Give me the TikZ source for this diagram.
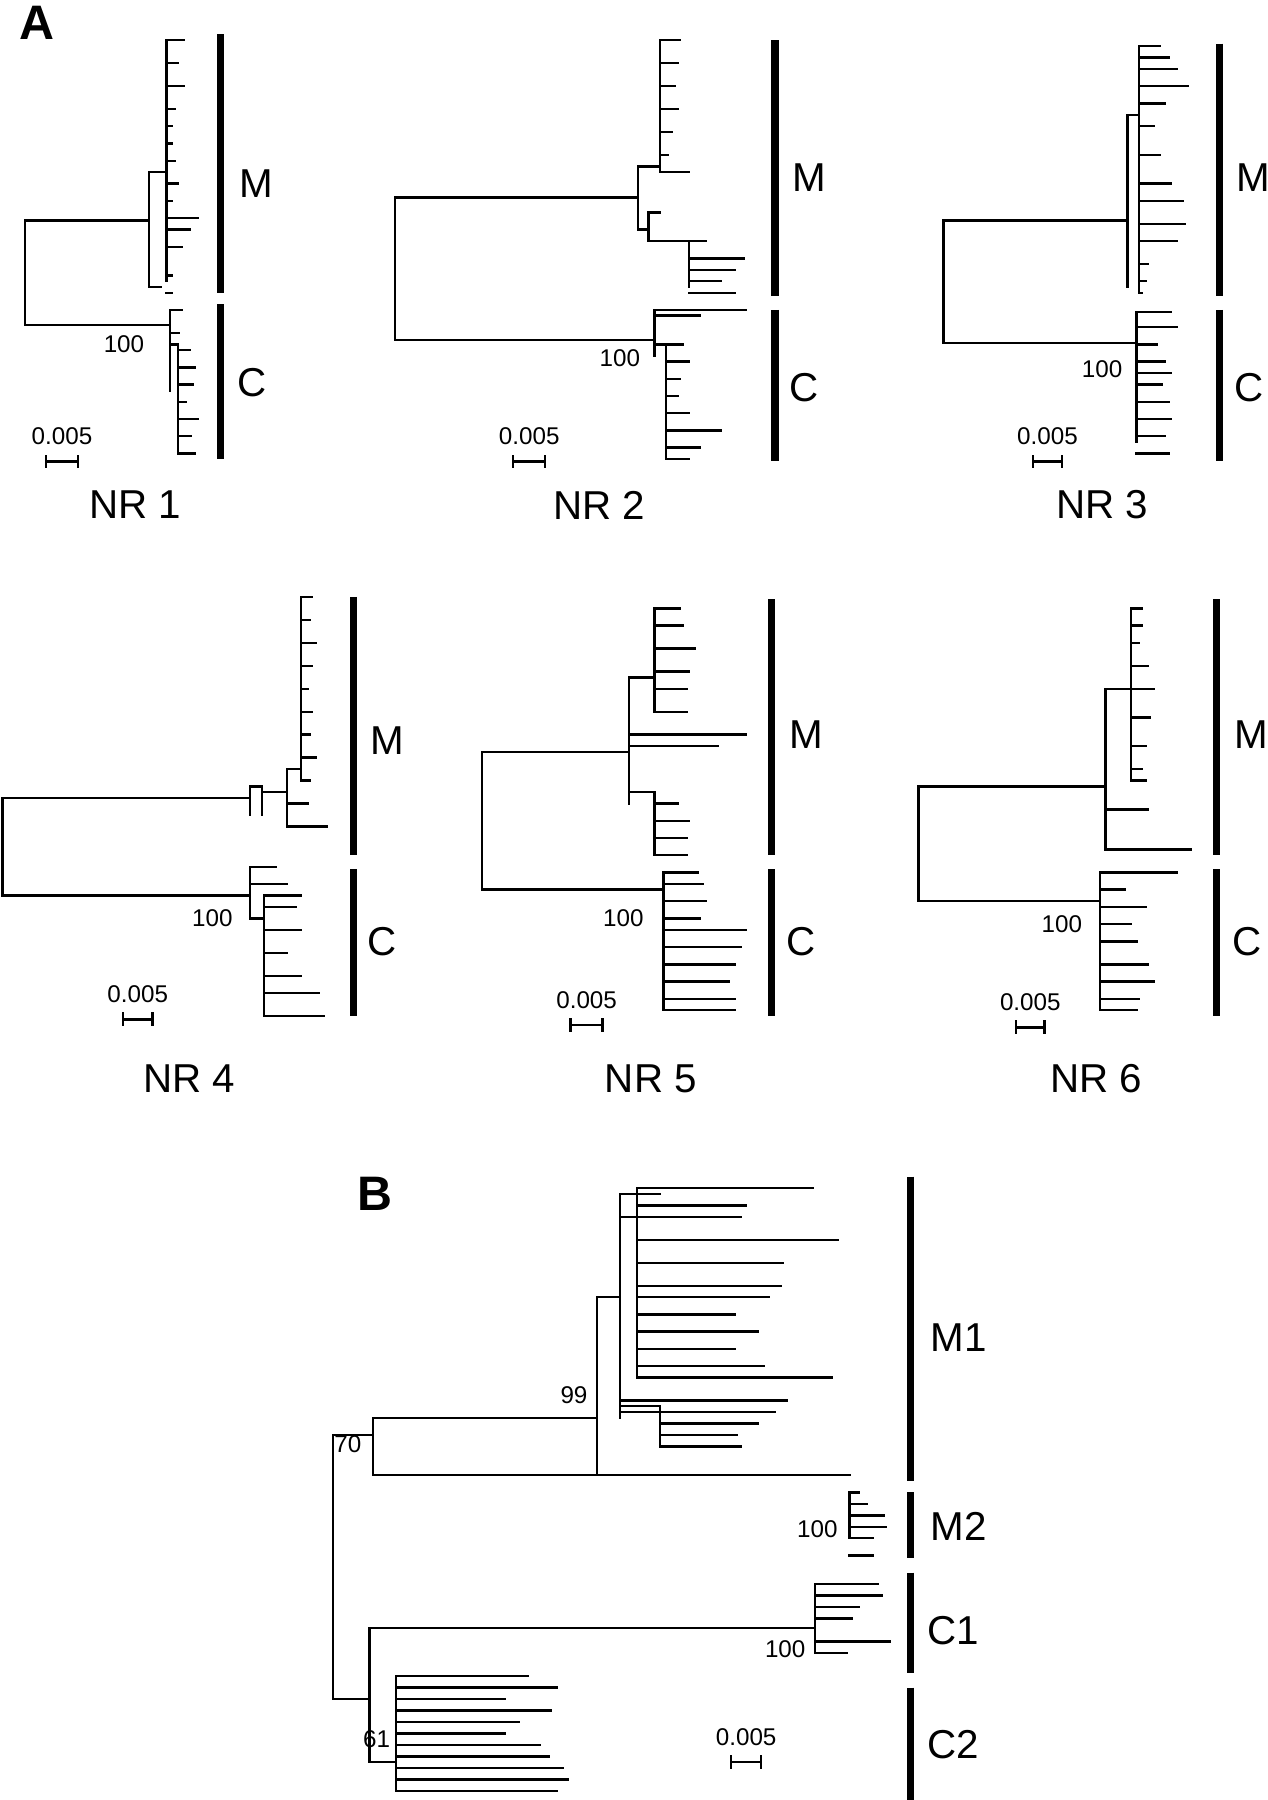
\documentclass[tikz,border=0pt]{standalone}
\usepackage{fontspec}
\setmainfont{Liberation Sans}
\tikzset{
    % tree branches
    br/.style={line width=1.2pt, line cap=rect},
    % clade bars
    cladebar/.style={line width=3.6pt},
    % labels
    clabel/.style={font=\fontsize{20}{22}\selectfont},
    treelabel/.style={font=\fontsize{20}{22}\selectfont},
    boot/.style={font=\fontsize{12}{14}\selectfont},
    panel/.style={font=\fontsize{24}{26}\selectfont\bfseries}
}
% leaves hanging from a spine: #1 spine x, #2 list y/x-end
\newcommand\leafs[2]{\foreach \yy/\xe in {#2} {\draw[br] (#1,\yy) -- (\xe,\yy);}}
% scale bar: #1 x-left, #2 x-right, #3 y
\newcommand\scalebar[3]{%
  \draw[br] (#1,#3) -- (#2,#3);
  \draw[br] (#1,#3-5) -- (#1,#3+5) (#2,#3-5) -- (#2,#3+5);
  \node[boot] at ({(#1+#2)/2},#3-22) {0.005};}
\begin{document}
\begin{tikzpicture}[x=0.02cm, y=-0.02cm]
  \useasboundingbox (0,0) rectangle (1104,1568);
  \node[panel] (pA) at (32,20) {A};
  \node[panel] (pB) at (327,1040) {B};

  % ---- NR 1
  \draw[br] (130,192) -| (22,283) -- (148,283);
  \draw[br] (130,150) -- (130,250) (130,150) -- (145,150) (145,35) -- (145,245);
  \leafs{145}{35/160,55/155,75/160,95/152,110/150,125/150,140/152,160/155,175/150,190/172,200/165,215/158,240/150,255/150}
  \draw[br] (130,250) -- (140,250);
  \draw[br] (148,270) -- (148,340) (148,300) -- (155,300) (155,300) -- (155,395);
  \leafs{148}{270/158,290/156}
  \leafs{155}{305/165,320/170,335/168,350/162,365/172,380/166,395/170}
  \node[boot] (b1) at (108,300) {100};
  \draw[cladebar] (192,30) -- (192,255) (192,265) -- (192,400);
  \node[clabel] (m1) at (223,160) {M};
  \node[clabel] (c1) at (220,333) {C};
  \scalebar{40}{68}{402}
  \node[treelabel] (nr1) at (118,440) {NR 1};

  % ---- NR 2
  \draw[br] (556,172) -| (344,296) -- (570,296);
  \draw[br] (556,145) -- (556,200) (556,145) -- (575,145) (575,35) -- (575,150);
  \leafs{575}{35/592,55/590,75/588,95/590,115/585,135/582,150/600}
  \draw[br] (556,200) -- (565,200) (565,185) -- (565,210) (565,210) -- (600,210) (600,210) -- (600,250);
  \leafs{565}{185/575}
  \leafs{600}{210/615,225/648,235/640,245/628,255/640}
  \draw[br] (570,270) -- (570,310);
  \leafs{570}{275/610,270/650}
  \draw[br] (570,300) -- (580,300) (580,300) -- (580,400);
  \leafs{580}{300/595,315/600,330/592,345/590,360/600,375/628,390/610,400/600}
  \node[boot] (b2) at (540,312) {100};
  \draw[cladebar] (675,35) -- (675,258) (675,270) -- (675,402);
  \node[clabel] (m2) at (705,155) {M};
  \node[clabel] (c2) at (700,338) {C};
  \scalebar{447}{475}{402}
  \node[treelabel] (nr2) at (522,440) {NR 2};

  % ---- NR 3
  \draw[br] (982,192) -| (822,299) -- (990,299);
  \draw[br] (982,100) -- (982,250) (982,100) -- (992,100) (992,40) -- (992,255);
  \leafs{992}{40/1010,50/1018,60/1025,75/1035,90/1015,110/1005,135/1010,160/1020,175/1030,195/1032,210/1025,230/1000,245/998,255/995}
  \draw[br] (990,272) -- (990,385);
  \leafs{990}{272/1020,285/1025,300/1008,315/1015,325/1020,335/1012,350/1018,365/1020,380/1015,395/1018}
  \node[boot] (b3) at (960,322) {100};
  \draw[cladebar] (1062,38) -- (1062,258) (1062,270) -- (1062,402);
  \node[clabel] (m3) at (1092,155) {M};
  \node[clabel] (c3) at (1088,338) {C};
  \scalebar{900}{925}{402}
  \node[treelabel] (nr3) at (960,440) {NR 3};

  % ---- NR 4
  \draw[br] (218,695) -| (2,780) -- (218,780);
  \draw[br] (218,685) -- (218,710) (218,685) -- (228,685) (228,685) -- (228,710);
  \draw[br] (228,690) -- (250,690) (250,670) -- (250,720) (250,670) -- (262,670) (262,520) -- (262,680);
  \leafs{262}{520/272,540/270,560/275,580/272,600/268,620/272,640/270,660/275,680/270}
  \leafs{250}{700/268,720/285}
  \draw[br] (218,755) -- (218,800) (218,800) -- (230,800) (230,780) -- (230,885);
  \leafs{218}{755/240,770/250}
  \leafs{230}{780/262,790/258,810/262,830/250,850/262,865/278,885/282}
  \node[boot] (b4) at (185,800) {100};
  \draw[cladebar] (308,520) -- (308,745) (308,757) -- (308,885);
  \node[clabel] (m4) at (337,645) {M};
  \node[clabel] (c4) at (333,820) {C};
  \scalebar{107}{133}{888}
  \node[treelabel] (nr4) at (165,940) {NR 4};

  % ---- NR 5
  \draw[br] (548,655) -| (420,775) -- (578,775);
  \draw[br] (548,590) -- (548,700) (548,590) -- (570,590) (570,530) -- (570,620);
  \leafs{570}{530/592,545/595,565/605,585/600,600/598,620/598}
  \leafs{548}{640/650,650/625,690/570}
  \draw[br] (570,690) -- (570,745);
  \leafs{570}{700/590,715/600,730/598,745/598}
  \draw[br] (578,760) -- (578,880);
  \leafs{578}{760/608,770/612,785/615,800/610,810/650,825/645,840/640,855/635,870/640,880/640}
  \node[boot] (b5) at (543,800) {100};
  \draw[cladebar] (672,522) -- (672,745) (672,757) -- (672,885);
  \node[clabel] (m5) at (702,640) {M};
  \node[clabel] (c5) at (698,820) {C};
  \scalebar{497}{525}{893}
  \node[treelabel] (nr5) at (567,940) {NR 5};

  % ---- NR 6
  \draw[br] (963,685) -| (800,785) -- (958,785);
  \draw[br] (963,600) -- (963,740) (963,600) -- (985,600) (985,530) -- (985,680);
  \leafs{985}{530/995,545/995,560/992,580/1000,600/1005,625/1002,650/998,670/995,680/998}
  \leafs{963}{705/1000,740/1037}
  \draw[br] (958,760) -- (958,880);
  \leafs{958}{760/1025,775/980,790/998,805/985,820/990,840/1000,855/1005,870/992,880/990}
  \node[boot] (b6) at (925,805) {100};
  \draw[cladebar] (1060,522) -- (1060,745) (1060,757) -- (1060,885);
  \node[clabel] (m6) at (1090,640) {M};
  \node[clabel] (c6) at (1086,820) {C};
  \scalebar{885}{910}{895}
  \node[treelabel] (nr6) at (955,940) {NR 6};

  % ---- B
  \draw[br] (290,1250) -- (290,1480) (290,1250) -- (325,1250) (290,1480) -- (322,1480);
  \draw[br] (325,1235) -- (325,1285) (325,1235) -- (520,1235) (325,1285) -- (740,1285);
  \draw[br] (520,1130) -- (520,1285);
  \leafs{520}{1285/672}
  \draw[br] (520,1130) -- (540,1130) (540,1040) -- (540,1235);
  \leafs{555}{1035/708,1050/650,1060/645,1080/730,1100/682,1120/680,1130/670,1145/640,1160/660,1175/640,1190/665,1200/725}
  \draw[br] (540,1060) -- (555,1060) (555,1035) -- (555,1200);
  \leafs{540}{1040/575,1220/685,1230/675}
  \draw[br] (540,1225) -- (575,1225) (575,1225) -- (575,1260);
  \leafs{575}{1240/660,1250/642,1260/645}
  \draw[br] (740,1300) -- (740,1340);
  \leafs{740}{1300/748,1310/755,1320/770,1330/772,1340/760,1355/760}
  \node[boot] (b99) at (500,1215) {99};
  \node[boot] (bm2) at (712,1332) {100};
  \draw[br] (322,1418) -- (322,1535) (322,1418) -- (710,1418) (322,1535) -- (345,1535);
  \draw[br] (710,1380) -- (710,1440);
  \leafs{710}{1380/765,1390/768,1400/748,1410/742,1430/775,1440/738}
  \node[boot] (bc1) at (684,1437) {100};
  \draw[br] (345,1460) -- (345,1560);
  \leafs{345}{1460/460,1470/485,1480/440,1490/480,1500/452,1510/440,1520/470,1530/478,1540/490,1550/495,1560/485}
  \node[boot] (b61) at (328,1515) {61};
  \node[boot] (b70) at (303,1258) {70};
  \draw[cladebar] (793,1025) -- (793,1290) (793,1300) -- (793,1357) (793,1370) -- (793,1457) (793,1470) -- (793,1568);
  \node[clabel] (lm1) at (835,1165) {M1};
  \node[clabel] (lm2) at (835,1330) {M2};
  \node[clabel] (lc1) at (830,1420) {C1};
  \node[clabel] (lc2) at (830,1520) {C2};
  \scalebar{637}{663}{1535}
\end{tikzpicture}
\end{document}
